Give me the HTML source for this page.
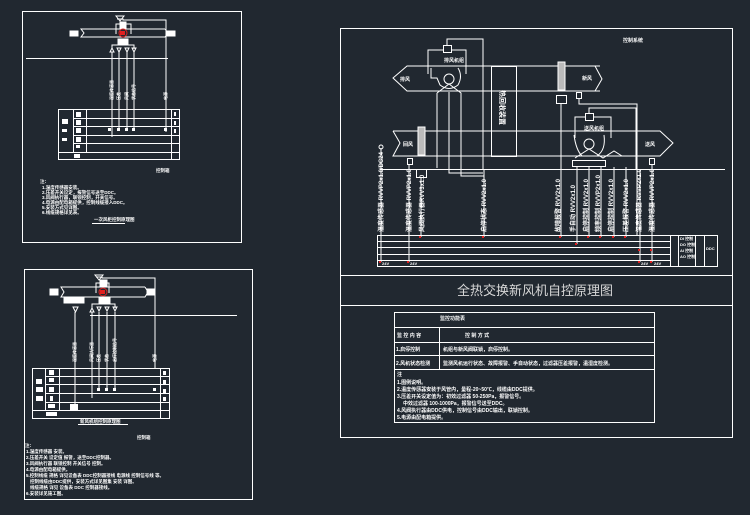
<!DOCTYPE html>
<html><head><meta charset="utf-8"><style>
html,body{margin:0;padding:0;background:#212830;}
svg{display:block}
text{font-family:"Liberation Sans","Noto Sans CJK SC",sans-serif;fill:#fff}
.b text{font-weight:bold}
</style></head><body>
<svg width="750" height="515" viewBox="0 0 750 515" xmlns="http://www.w3.org/2000/svg">
<rect width="750" height="515" fill="#212830"/>
<g stroke="#fff" stroke-width="1" fill="none">
<rect x="22.5" y="11.5" width="219" height="231"/>
<rect x="24.5" y="269.5" width="228" height="230"/>
<rect x="340.5" y="28.5" width="392" height="409"/>
<line x1="340" y1="275.5" x2="733" y2="275.5"/>
<line x1="340" y1="305.5" x2="733" y2="305.5"/>
<polyline points="600,66 407,66 393,78 407,91 600,91"/>
<polyline points="595,66 602,79 595,91"/>
<polyline points="393,131 660,131 673,143 660,156 393,156 400,143 393,131"/>
<rect x="491.5" y="66.5" width="25" height="90"/>
<circle cx="449" cy="79" r="5"/>
<path d="M431,68 L431,78 L437,78 L440,85 Q449,92 458,85 Q463,76 458,68"/>
<path d="M437,93 L449,84 L461,93 L461,150 M437,93 L437,150"/>
<rect x="443.5" y="45.5" width="8" height="7"/>
<polyline points="428,74 428,50 443,50"/><polyline points="451,50 466,50 466,74"/>
<polyline points="447,45 447,39 483,39 483,169"/>
<circle cx="589" cy="144" r="5"/>
<path d="M574,135 Q576,150 582,156 M604,135 Q606,150 597,156"/>
<path d="M575,158 L589,149 L603,158 L614,151 L622,156"/>
<rect x="585.5" y="113.5" width="8" height="7"/>
<polyline points="575,138 575,117 585,117"/><polyline points="593,117 611,117 611,138"/>
<polyline points="589,113 589,108 636,108 636,170"/>
<rect x="572.5" y="160.5" width="33" height="6"/>
<rect x="558" y="62" width="7" height="28" fill="#bbb" stroke="#fff"/>
<rect x="556.5" y="95.5" width="10" height="8"/>
<rect x="418" y="127" width="7" height="28" fill="#bbb" stroke="#fff"/>
<rect x="416.5" y="169.5" width="10" height="8"/>
<rect x="576.5" y="92.5" width="5" height="6"/>
<polyline points="579,98 579,104 637,104 637,235"/>
<rect x="407.5" y="158.5" width="5" height="6"/>
<rect x="649.5" y="158.5" width="5" height="6"/>
<line x1="381" y1="148" x2="381" y2="262"/>
<circle cx="381" cy="147" r="2"/>
<line x1="380" y1="169.5" x2="725" y2="169.5"/>
<polyline points="437,150 437,168 "/>
<polyline points="449,92 449,173 483,173"/>
<polyline points="461,150 461,176 484,176"/>
<line x1="409" y1="164" x2="409" y2="262"/>
<line x1="421" y1="177" x2="421" y2="237"/>
<line x1="484" y1="169" x2="484" y2="237"/>
<line x1="561" y1="103" x2="561" y2="237"/>
<line x1="577" y1="167" x2="577" y2="244"/>
<line x1="589" y1="167" x2="589" y2="237"/>
<line x1="601" y1="167" x2="601" y2="237"/>
<line x1="614" y1="167" x2="614" y2="237"/>
<line x1="626" y1="167" x2="626" y2="237"/>
<line x1="652" y1="164" x2="652" y2="262"/>
<line x1="640" y1="169" x2="640" y2="262"/>
<rect x="377.5" y="235.5" width="340" height="31"/>
<line x1="377" y1="241.5" x2="670" y2="241.5"/>
<line x1="377" y1="247.5" x2="670" y2="247.5"/>
<line x1="377" y1="254.5" x2="670" y2="254.5"/>
<line x1="377" y1="260.5" x2="670" y2="260.5"/>
<line x1="670.5" y1="235" x2="670.5" y2="266"/>
<line x1="678.5" y1="235" x2="678.5" y2="266"/>
<line x1="695.5" y1="235" x2="695.5" y2="266"/>
<line x1="704.5" y1="235" x2="704.5" y2="266"/>
<rect x="394.5" y="312.5" width="260" height="110"/>
<line x1="394" y1="327.5" x2="654" y2="327.5"/>
<line x1="394" y1="342.5" x2="654" y2="342.5"/>
<line x1="394" y1="355.5" x2="654" y2="355.5"/>
<line x1="394" y1="369.5" x2="654" y2="369.5"/>
<line x1="439.5" y1="327" x2="439.5" y2="369"/>
<polyline points="165,29 81,29 84,33 81,37 165,37 168,33 165,29"/>
<rect x="70" y="31" width="8" height="5" fill="#fff"/>
<rect x="167" y="31" width="8" height="5" fill="#fff"/>
<polyline points="117,19 123,19 123,20 166,20 166,132"/>
<polygon points="116,16 124,16 120,21"/>
<rect x="120" y="22" width="6" height="6" fill="#fff"/>
<polyline points="116,34 116,24 131,24 131,34"/>
<circle cx="123" cy="33" r="4" stroke="#e02020"/>
<rect x="118" y="39" width="10" height="5" fill="#fff"/>
<polyline points="112,49 112,45 134,45 134,49"/>
<polygon points="110,52 114,52 112,48"/><polygon points="117,48 121,48 119,52"/><polygon points="125,48 129,48 127,52"/><polygon points="132,48 136,48 134,52"/>
<line x1="26" y1="58.5" x2="168" y2="58.5"/>
<line x1="112" y1="52" x2="112" y2="137"/>
<line x1="119" y1="52" x2="119" y2="131"/>
<line x1="127" y1="52" x2="127" y2="131"/>
<line x1="134" y1="52" x2="134" y2="131"/>
<rect x="58.5" y="109.5" width="121" height="50"/>
<line x1="73.5" y1="109" x2="73.5" y2="152"/>
<line x1="86.5" y1="109" x2="86.5" y2="152"/>
<line x1="171.5" y1="109" x2="171.5" y2="159"/>
<line x1="73" y1="118.5" x2="180" y2="118.5"/>
<line x1="73" y1="126.5" x2="180" y2="126.5"/>
<line x1="73" y1="135.5" x2="180" y2="135.5"/>
<line x1="73" y1="143.5" x2="180" y2="143.5"/>
<line x1="58" y1="152.5" x2="180" y2="152.5"/>
<line x1="92" y1="223.5" x2="125" y2="223.5"/>
<polyline points="145,287 61,287 64,292 61,297 145,297 148,292 145,287"/>
<rect x="50" y="289" width="8" height="6" fill="#fff"/>
<rect x="147" y="289" width="8" height="6" fill="#fff"/>
<polyline points="96,277 102,277 102,278 155,278 155,369"/>
<polygon points="95,275 103,275 99,280"/>
<rect x="100" y="280" width="7" height="6" fill="#fff"/>
<polyline points="96,293 96,283 109,283 109,293"/>
<circle cx="103" cy="292" r="4" stroke="#e02020"/>
<rect x="64" y="298" width="20" height="5" fill="#fff"/>
<rect x="99" y="298" width="11" height="5" fill="#fff"/>
<polyline points="92,308 92,304 115,304 115,308"/>
<polygon points="73,307 78,307 75.5,312"/>
<polygon points="90,312 94,312 92,308"/><polygon points="97,307 101,307 99,311"/><polygon points="105,307 109,307 107,311"/><polygon points="113,307 117,307 115,311"/>
<line x1="90" y1="315.5" x2="237" y2="315.5"/>
<line x1="75" y1="312" x2="75" y2="408"/>
<line x1="92" y1="312" x2="92" y2="398"/>
<line x1="99" y1="312" x2="99" y2="390"/>
<line x1="107" y1="312" x2="107" y2="390"/>
<line x1="115" y1="312" x2="115" y2="390"/>
<rect x="32.5" y="368.5" width="137" height="50"/>
<line x1="45.5" y1="368" x2="45.5" y2="410"/>
<line x1="59.5" y1="368" x2="59.5" y2="410"/>
<line x1="160.5" y1="368" x2="160.5" y2="418"/>
<line x1="45" y1="376.5" x2="170" y2="376.5"/>
<line x1="45" y1="384.5" x2="170" y2="384.5"/>
<line x1="45" y1="393.5" x2="170" y2="393.5"/>
<line x1="45" y1="402.5" x2="170" y2="402.5"/>
<line x1="32" y1="410.5" x2="170" y2="410.5"/>
<line x1="78" y1="424.5" x2="128" y2="424.5"/>
</g>
<g fill="#e02020">
<rect x="419" y="236" width="2" height="2"/><rect x="482" y="236" width="2" height="2"/><rect x="559" y="236" width="2" height="2"/>
<rect x="575" y="243" width="2" height="2"/><rect x="587" y="236" width="2" height="2"/><rect x="599" y="236" width="2" height="2"/>
<rect x="612" y="236" width="2" height="2"/><rect x="624" y="236" width="2" height="2"/><rect x="638" y="249" width="2" height="2"/>
<rect x="650" y="249" width="2" height="2"/><rect x="379" y="261" width="2" height="2"/><rect x="407" y="261" width="2" height="2"/>
<rect x="638" y="261" width="2" height="2"/><rect x="650" y="261" width="2" height="2"/>
<rect x="120" y="31" width="5" height="4"/><rect x="100" y="290" width="5" height="4"/>
</g>
<g fill="#fff">
<rect x="108" y="128" width="3" height="3"/><rect x="117" y="128" width="3" height="3"/><rect x="125" y="128" width="3" height="3"/><rect x="132" y="128" width="3" height="3"/><rect x="164" y="128" width="3" height="3"/>
<rect x="97" y="388" width="3" height="3"/><rect x="105" y="388" width="3" height="3"/><rect x="113" y="388" width="3" height="3"/><rect x="153" y="388" width="3" height="3"/>
<rect x="70" y="404" width="8" height="6"/>
</g>
<g class="b">
<g font-size="5">
<text x="444" y="62">排风机组</text>
<text x="584" y="130">送风机组</text>
<text x="400" y="81">排风</text>
<text x="582" y="80">新风</text>
<text x="403" y="146">回风</text>
<text x="645" y="146">送风</text>
<text x="623" y="42">控制系统</text>
</g>
<text x="500" y="90" font-size="7" transform="rotate(90 500 90)">热回收装置</text>
<g font-size="6">
<text transform="translate(383,232) rotate(-90)">温度传感器 RVVP2x1.0/DC24</text>
<text transform="translate(411,232) rotate(-90)">温度传感器 RVVP2x1.0</text>
<text transform="translate(424,232) rotate(-90)">风阀执行器RVV3x1.0</text>
<text transform="translate(486,232) rotate(-90)">启停状态 RVV2x1.0</text>
<text transform="translate(560,232) rotate(-90)">故障报警 RVV2x1.0</text>
<text transform="translate(575,232) rotate(-90)">手自动 RVV2x1.0</text>
<text transform="translate(588,232) rotate(-90)">启停控制 RVV2x1.0</text>
<text transform="translate(600,232) rotate(-90)">频率控制 RVVP2x1.0</text>
<text transform="translate(613,232) rotate(-90)">启停控制 RVV2x1.0</text>
<text transform="translate(628,232) rotate(-90)">压差报警 RVV2x1.0</text>
<text transform="translate(641,232) rotate(-90)">温度传感器 RVVP2x1.0</text>
<text transform="translate(654,232) rotate(-90)">湿度传感器 RVVP2x1.0</text>
</g>
<g font-size="4">
<text x="680" y="240">DI 控制</text><text x="680" y="246">DO 控制</text><text x="680" y="252">AI 控制</text><text x="680" y="258">AO 控制</text>
<text x="706" y="250">DDC</text>
<text x="382" y="265">24V</text><text x="410" y="265">24V</text><text x="641" y="265">24V</text><text x="654" y="265">24V</text>
</g>
<g font-size="5">
<text x="440" y="320">监控功能表</text>
<text x="397" y="337">监 控 内 容</text><text x="465" y="337">控 制 方 式</text>
<text x="396" y="351">1.启停控制</text><text x="443" y="351">机组与新风阀联锁，启停控制。</text>
<text x="396" y="365">2.风机状态检测</text><text x="443" y="365">监测风机运行状态、故障报警、手自动状态，过滤器压差报警，温湿度检测。</text>
<text x="397" y="376">注</text>
<text x="397" y="384">1.图例说明。</text>
<text x="397" y="391">2.温度传感器安装于风管内，量程-20~50℃，线缆由DDC提供。</text>
<text x="397" y="398">3.压差开关设定值为：初效过滤器 50-250Pa，报警信号。</text>
<text x="403" y="405">中效过滤器 100-1000Pa，报警信号送至DDC。</text>
<text x="397" y="412">4.风阀执行器由DDC供电，控制信号由DDC输出，联锁控制。</text>
<text x="397" y="419">5.电源由配电箱提供。</text>
</g>
<g font-size="4.5">
<text x="40" y="183">注：</text>
<text x="42" y="189">1.温度传感器安装。</text>
<text x="42" y="194">2.压差开关设定，报警信号送至DDC。</text>
<text x="42" y="199">3.风阀执行器，联锁控制，开关信号。</text>
<text x="42" y="204">4.电源由配电箱提供，控制线缆接入DDC。</text>
<text x="42" y="209">5.安装方式见详图。</text>
<text x="42" y="214">6.线缆规格详见表。</text>
<text x="94" y="221">一次风柜控制原理图</text>
<text x="156" y="172">控制箱</text>
<text x="25" y="447">注：</text>
<text x="26" y="453">1.温度传感器 安装。</text>
<text x="26" y="459">2.压差开关 设定值 报警，送至DDC控制器。</text>
<text x="26" y="465">3.风阀执行器 联锁控制 开关信号 控制。</text>
<text x="26" y="471">4.电源由配电箱提供。</text>
<text x="26" y="477">5.控制线缆 规格 详见设备表 DDC控制器接线 电源线 控制信号线 等。</text>
<text x="30" y="483">控制线缆由DDC提供，安装方式详见图集 安装 详图。</text>
<text x="30" y="489">线缆规格 详见 设备表 DDC 控制器接线。</text>
<text x="26" y="495">6.安装详见施工图。</text>
<text x="80" y="423">新风机组控制原理图</text>
<text x="137" y="439">控制箱</text>
</g>
<g font-size="4">
<text transform="translate(113,100) rotate(-90)">温度传感器</text>
<text transform="translate(120,100) rotate(-90)">压差</text>
<text transform="translate(128,100) rotate(-90)">风阀</text>
<text transform="translate(135,100) rotate(-90)">状态信号</text>
<text transform="translate(167,100) rotate(-90)">电源</text>
<text transform="translate(76,362) rotate(-90)">温度传感器</text>
<text transform="translate(93,362) rotate(-90)">风阀执行器</text>
<text transform="translate(100,362) rotate(-90)">压差</text>
<text transform="translate(108,362) rotate(-90)">状态</text>
<text transform="translate(116,362) rotate(-90)">启停控制信号</text>
<text transform="translate(156,362) rotate(-90)">电源</text>
</g>
</g>
<text x="535" y="295" font-size="13" text-anchor="middle" style="fill:#d8d8d8">全热交换新风机自控原理图</text>
<g fill="#fff">
<rect x="62" y="119" width="6" height="5"/><rect x="62" y="129" width="5" height="3"/><rect x="62" y="138" width="5" height="3"/>
<rect x="76" y="112" width="5" height="5"/><rect x="76" y="120" width="5" height="5"/><rect x="76" y="128" width="5" height="5"/><rect x="76" y="137" width="5" height="5"/><rect x="76" y="145" width="4" height="3"/>
<rect x="74" y="154" width="6" height="4"/>
<rect x="174" y="112" width="2" height="4"/><rect x="174" y="121" width="2" height="4"/><rect x="174" y="129" width="2" height="4"/>
<rect x="36" y="379" width="6" height="5"/><rect x="36" y="387" width="7" height="5"/><rect x="36" y="396" width="7" height="5"/>
<rect x="49" y="370" width="5" height="5"/><rect x="49" y="378" width="5" height="4"/><rect x="49" y="387" width="5" height="5"/><rect x="50" y="396" width="3" height="5"/><rect x="48" y="404" width="7" height="4"/>
<rect x="46" y="412" width="11" height="4"/>
<rect x="163" y="371" width="3" height="4"/><rect x="163" y="380" width="3" height="4"/><rect x="163" y="389" width="3" height="4"/><rect x="163" y="397" width="3" height="4"/>
</g>
</svg>
</body></html>
